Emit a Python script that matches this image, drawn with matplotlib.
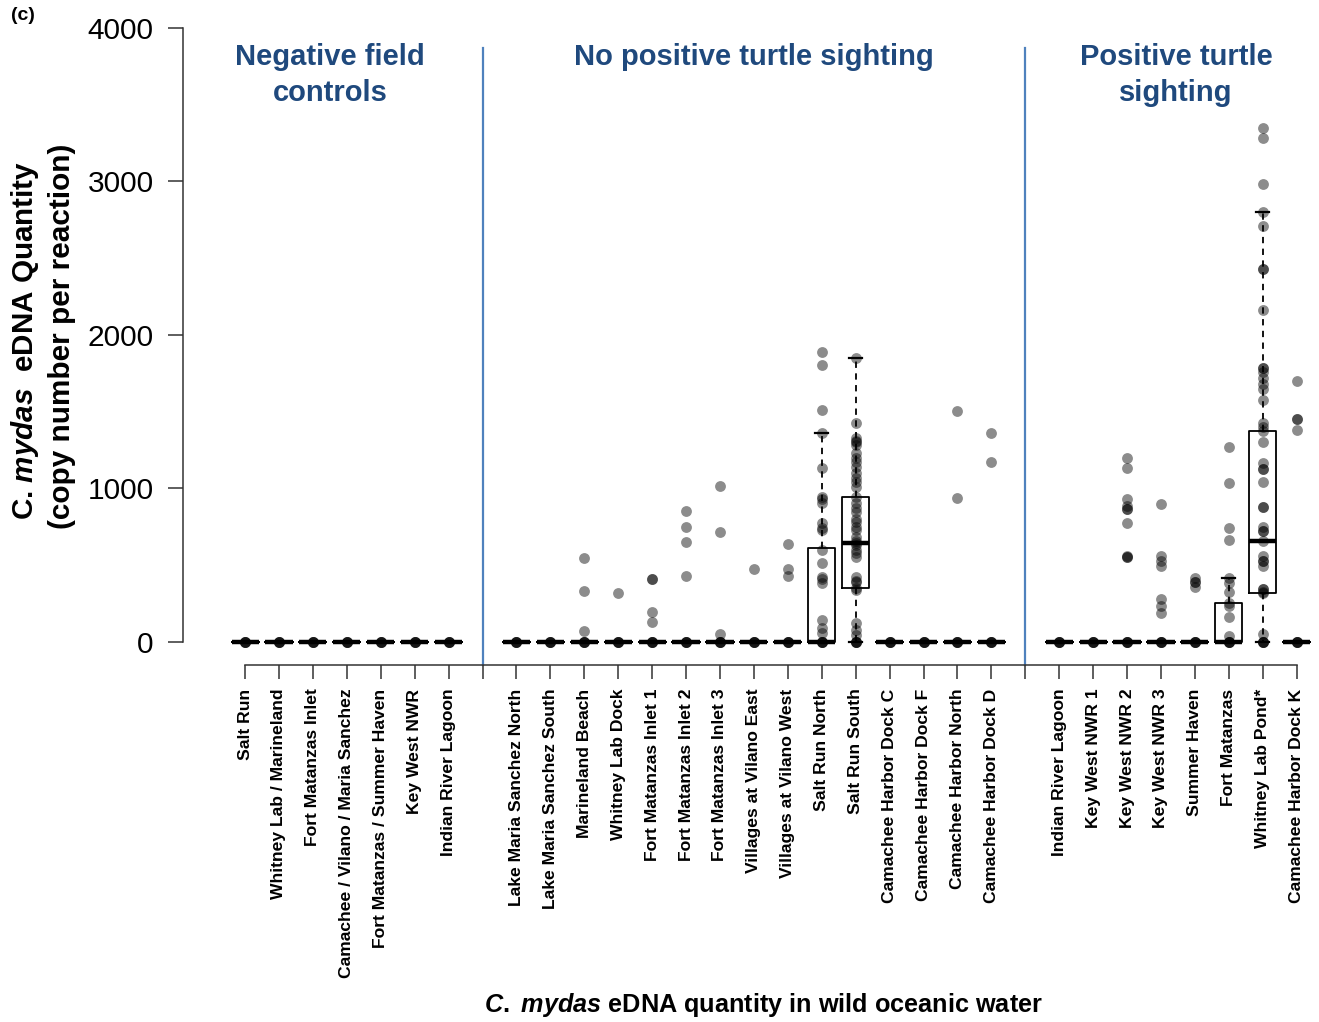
import matplotlib
matplotlib.use("Agg")
import matplotlib.pyplot as plt
import numpy as np

plt.rcParams['font.family'] = ['Liberation Sans', 'DejaVu Sans']
plt.rcParams['mathtext.fontset'] = 'custom'
plt.rcParams['mathtext.it'] = 'Liberation Sans:italic:bold'
plt.rcParams['mathtext.rm'] = 'Liberation Sans:bold'
plt.rcParams['mathtext.bf'] = 'Liberation Sans:bold'

# ---------------- data ----------------
sites_neg = ["Salt Run", "Whitney Lab / Marineland", "Fort Matanzas Inlet",
             "Camachee / Vilano / Maria Sanchez", "Fort Matanzas / Summer Haven",
             "Key West NWR", "Indian River Lagoon"]
sites_nopos = ["Lake Maria Sanchez North", "Lake Maria Sanchez South", "Marineland Beach",
               "Whitney Lab Dock", "Fort Matanzas Inlet 1", "Fort Matanzas Inlet 2",
               "Fort Matanzas Inlet 3", "Villages at Vilano East", "Villages at Vilano West",
               "Salt Run North", "Salt Run South", "Camachee Harbor Dock C",
               "Camachee Harbor Dock F", "Camachee Harbor North", "Camachee Harbor Dock D"]
sites_pos = ["Indian River Lagoon", "Key West NWR 1", "Key West NWR 2", "Key West NWR 3",
             "Summer Haven", "Fort Matanzas", "Whitney Lab Pond*", "Camachee Harbor Dock K"]

# non-zero measurements per site (every site also has zero replicates)
values_neg = [[], [], [], [], [], [], []]
values_nopos = [
    [],
    [],
    [547, 334, 72],
    [319],
    [412, 412, 197, 130],
    [853, 751, 651, 430],
    [1016, 715, 50],
    [475],
    [640, 475, 430],
    [1891, 1805, 1511, 1361, 1135, 945, 930, 905, 775, 740, 730, 600, 515, 424, 410, 384,
     143, 91, 59],
    [1850, 1427, 1329, 1310, 1300, 1283, 1231, 1200, 1172, 1140, 1101, 1068, 1040, 1010, 945,
     905, 870, 847, 800, 782, 750, 730, 684, 660, 645, 630, 600, 580, 554, 424, 400, 391,
     352, 339, 124, 78, 46],
    [],
    [],
    [1505, 938],
    [1362, 1173],
]
values_pos = [
    [],
    [],
    [1197, 1135, 934, 884, 866, 866, 775, 560, 554, 554],
    [899, 563, 530, 495, 280, 235, 189],
    [417, 391, 391, 358],
    [1268, 1037, 743, 666, 417, 384, 326, 255, 235, 163, 39],
    [3347, 3283, 2981, 2803, 2708, 2431, 2431, 2163, 1786, 1786, 1760, 1720, 1680, 1648,
     1577, 1427, 1401, 1375, 1300, 1169, 1130, 1130, 1044, 877, 877, 747, 723, 723, 660,
     563, 528, 528, 495, 347, 347, 326, 317, 52],
    [1700, 1455, 1455, 1381],
]
zeros_per_site = 4

# box statistics (sites not listed have all quartiles at 0)
box_sites = ["Salt Run North", "Salt Run South", "Fort Matanzas", "Whitney Lab Pond*"]
box_q1 = [0, 352, 0, 317]
box_med = [0, 645, 0, 660]
box_q3 = [612, 945, 255, 1375]
box_whishi = [1361, 1850, 417, 2803]

group_titles = ["Negative field\ncontrols", "No positive turtle sighting",
                "Positive turtle\nsighting"]
group_title_x = [3.5, 16.0, 28.45]
y_ticks = [0, 1000, 2000, 3000, 4000]

# ---------------- layout ----------------
W, H = 1319, 1022
fig = plt.figure(figsize=(W / 100, H / 100), dpi=100)
ax = fig.add_axes([183 / W, 1 - 665 / H, (1317 - 183) / W, (665 - 28) / H])

pos_neg = list(range(1, 8))
pos_nopos = list(range(9, 24))
pos_pos = list(range(25, 33))
all_sites = sites_neg + sites_nopos + sites_pos
all_values = values_neg + values_nopos + values_pos
all_pos = pos_neg + pos_nopos + pos_pos

# boxes
stats = []
for i, name in enumerate(all_sites):
    k = None
    if name in box_sites:
        k = box_sites.index(name)
        if name == "Fort Matanzas" and all_pos[i] < 24:
            k = None
    if k is None:
        stats.append(dict(med=0, q1=0, q3=0, whislo=0, whishi=0, fliers=[]))
    else:
        stats.append(dict(med=box_med[k], q1=box_q1[k], q3=box_q3[k], whislo=0,
                          whishi=box_whishi[k], fliers=[]))

ax.bxp(stats, positions=all_pos, widths=0.8, capwidths=0.38, showfliers=False,
       boxprops=dict(color='black', linewidth=1.3),
       medianprops=dict(color='black', linewidth=3.2, solid_capstyle='butt'),
       whiskerprops=dict(color='black', linewidth=1.3, linestyle=(0, (3.5, 3))),
       capprops=dict(color='black', linewidth=1.6), manage_ticks=False, zorder=2)

# points
for p, vals in zip(all_pos, all_values):
    data = np.array(list(vals) + [0] * zeros_per_site, dtype=float)
    ax.plot(np.full(len(data), p), data, 'o', color='black', alpha=0.45,
            markersize=7.8, markeredgewidth=0, zorder=3)

# divider lines
for xd in (8, 24):
    ax.plot([xd, xd], [-150, 3870], color='#4F81BD', linewidth=1.6, zorder=1,
            clip_on=False)

# group titles
for t, xt in zip(group_titles, group_title_x):
    ax.text(xt, 3900, t, ha='center', va='top', fontsize=21, fontweight='bold',
            color='#1F497D', linespacing=1.35)

ax.set_xlim(-0.83, 32.6)
ax.set_ylim(-150, 4000)

for s in ('top', 'right'):
    ax.spines[s].set_visible(False)
ax.spines['left'].set_bounds(0, 4000)
ax.spines['bottom'].set_bounds(1, 32)
for s in ('left', 'bottom'):
    ax.spines[s].set_color('#333333')
    ax.spines[s].set_linewidth(1.1)

ax.set_yticks(y_ticks)
ax.set_yticklabels([str(v) for v in y_ticks])
ax.tick_params(axis='y', length=11, width=1.1, color='#333333', labelsize=21.5, pad=10)

tick_pos = list(range(1, 33))
tick_lab = []
for p in tick_pos:
    if p in all_pos:
        tick_lab.append(all_sites[all_pos.index(p)])
    else:
        tick_lab.append("")
ax.set_xticks(tick_pos)
ax.set_xticklabels(tick_lab, rotation=90, fontsize=12.6, fontweight='bold')
ax.tick_params(axis='x', length=10, width=1.1, color='#333333', pad=7)

# axis labels
fig.text(25 / W, 1 - 340 / H, r"C. $mydas$  eDNA Quantity", rotation=90, ha='center',
         va='center', fontsize=21.3, fontweight='bold')
fig.text(62 / W, 1 - 336 / H, "(copy number per reaction)", rotation=90, ha='center',
         va='center', fontsize=21.4, fontweight='bold')
fig.text(763 / W, 1 - 1005 / H, r"$C.$ $mydas$ eDNA quantity in wild oceanic water",
         ha='center', va='center', fontsize=18.2, fontweight='bold')
fig.text(11 / W, 1 - 15 / H, "(c)", ha='left', va='center', fontsize=14, fontweight='bold')

fig.savefig("out.png", dpi=100)
